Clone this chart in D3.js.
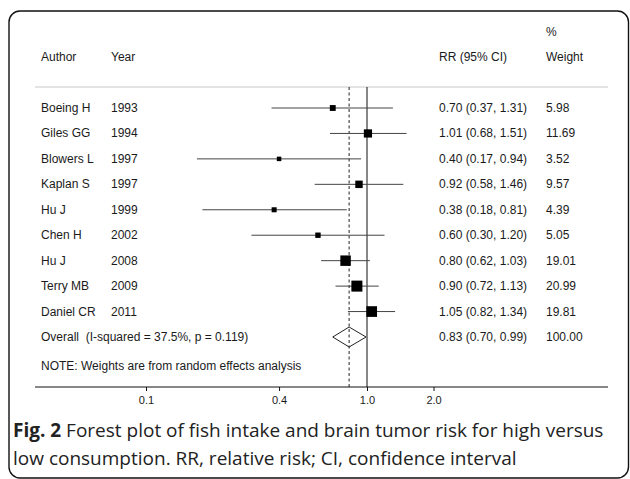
<!DOCTYPE html>
<html>
<head>
<meta charset="utf-8">
<script src="https://cdn.jsdelivr.net/npm/d3@7"></script>
<style>
  html, body { margin: 0; padding: 0; background: #fff; }
  svg { display: block; }
  text { white-space: pre; }
</style>
</head>
<body>
<svg id="chart" width="630" height="479"></svg>
<script>
const authors = ["Boeing H", "Giles GG", "Blowers L", "Kaplan S", "Hu J", "Chen H", "Hu J", "Terry MB", "Daniel CR"];
const years   = ["1993", "1994", "1997", "1997", "1999", "2002", "2008", "2009", "2011"];
const rr      = [0.70, 1.01, 0.40, 0.92, 0.38, 0.60, 0.80, 0.90, 1.05];
const ciLow   = [0.37, 0.68, 0.17, 0.58, 0.18, 0.30, 0.62, 0.72, 0.82];
const ciHigh  = [1.31, 1.51, 0.94, 1.46, 0.81, 1.20, 1.03, 1.13, 1.34];
const weights = [5.98, 11.69, 3.52, 9.57, 4.39, 5.05, 19.01, 20.99, 19.81];
const overallLabel = "Overall  (I-squared = 37.5%, p = 0.119)";
const overall = { rr: 0.83, lo: 0.70, hi: 0.99, w: 100.00 };
const tickValues = [0.1, 0.4, 1.0, 2.0];
const tickLabels = ["0.1", "0.4", "1.0", "2.0"];
const noteText = "NOTE: Weights are from random effects analysis";
const captionBold = "Fig. 2";
const captionLine1 = " Forest plot of fish intake and brain tumor risk for high versus";
const captionLine2 = "low consumption. RR, relative risk; CI, confidence interval";

const svg = d3.select("#chart");
const font = "'Liberation Sans', Arial, sans-serif";
const txtColor = "#1a1a1a";

// frame
svg.append("rect")
  .attr("x", 9).attr("y", 11).attr("width", 619.5).attr("height", 467)
  .attr("rx", 11).attr("ry", 11)
  .attr("fill", "none").attr("stroke", "#111").attr("stroke-width", 1.4);

// scales
const x = d3.scaleLog().domain([0.1, 1]).range([146, 367]);
const rowIdx = d3.range(authors.length + 1);
const y = d3.scalePoint().domain(rowIdx).range([108, 337]);
const size = d3.scaleSqrt().domain([0, d3.max(weights)]).range([0, 11]);
const fmt = d3.format(".2f");

const headerY = 87, axisY = 387;
const colAuthor = 41, colYear = 111, colRR = 439, colW = 546;

// headers
const g = svg.append("g").attr("font-family", font).attr("font-size", 12).attr("fill", txtColor);
g.append("text").attr("x", colAuthor).attr("y", 61).text("Author");
g.append("text").attr("x", colYear).attr("y", 61).text("Year");
g.append("text").attr("x", colRR).attr("y", 61).text("RR (95% CI)");
g.append("text").attr("x", colW).attr("y", 36).text("%");
g.append("text").attr("x", colW).attr("y", 61).text("Weight");

// header rule
svg.append("line")
  .attr("x1", 35).attr("x2", 608).attr("y1", headerY).attr("y2", headerY)
  .attr("stroke", "#c8c8c8").attr("stroke-width", 1);

// reference lines
svg.append("line")
  .attr("x1", x(1)).attr("x2", x(1)).attr("y1", headerY).attr("y2", axisY)
  .attr("stroke", "#111").attr("stroke-width", 1);
svg.append("line")
  .attr("x1", x(overall.rr)).attr("x2", x(overall.rr)).attr("y1", headerY).attr("y2", axisY)
  .attr("stroke", "#222").attr("stroke-width", 1).attr("stroke-dasharray", "3,2.5");

// study rows
const rows = authors.map((a, i) => ({ a, yr: years[i], rr: rr[i], lo: ciLow[i], hi: ciHigh[i], w: weights[i], i }));

g.selectAll(".auth").data(rows).enter().append("text")
  .attr("x", colAuthor).attr("y", d => y(d.i) + 4).text(d => d.a);
g.selectAll(".yr").data(rows).enter().append("text")
  .attr("x", colYear).attr("y", d => y(d.i) + 4).text(d => d.yr);
g.selectAll(".rrt").data(rows).enter().append("text")
  .attr("x", colRR).attr("y", d => y(d.i) + 4)
  .text(d => `${fmt(d.rr)} (${fmt(d.lo)}, ${fmt(d.hi)})`);
g.selectAll(".wt").data(rows).enter().append("text")
  .attr("x", colW).attr("y", d => y(d.i) + 4).text(d => fmt(d.w));

svg.selectAll(".ci").data(rows).enter().append("line")
  .attr("x1", d => x(d.lo)).attr("x2", d => x(d.hi))
  .attr("y1", d => y(d.i)).attr("y2", d => y(d.i))
  .attr("stroke", "#444").attr("stroke-width", 1);

svg.selectAll(".box").data(rows).enter().append("rect")
  .attr("x", d => x(d.rr) - size(d.w) / 2)
  .attr("y", d => y(d.i) - size(d.w) / 2)
  .attr("width", d => size(d.w)).attr("height", d => size(d.w))
  .attr("fill", "#000");

// overall
const oy = y(authors.length);
g.append("text").attr("x", colAuthor).attr("y", oy + 4).text(overallLabel);
g.append("text").attr("x", colRR).attr("y", oy + 4)
  .text(`${fmt(overall.rr)} (${fmt(overall.lo)}, ${fmt(overall.hi)})`);
g.append("text").attr("x", colW).attr("y", oy + 4).text(fmt(overall.w));
svg.append("path")
  .attr("d", d3.line()([
    [x(overall.lo), oy], [x(overall.rr), oy - 10],
    [x(overall.hi), oy], [x(overall.rr), oy + 10]
  ]) + "Z")
  .attr("fill", "none").attr("stroke", "#222").attr("stroke-width", 1);

// note
g.append("text").attr("x", colAuthor).attr("y", 370).text(noteText);

// axis
svg.append("line")
  .attr("x1", 35).attr("x2", 608).attr("y1", axisY).attr("y2", axisY)
  .attr("stroke", "#111").attr("stroke-width", 1);
const axis = d3.axisBottom(x).tickValues(tickValues)
  .tickFormat((d, i) => tickLabels[i]).tickSize(4).tickPadding(5);
const ax = svg.append("g").attr("transform", `translate(0,${axisY})`).call(axis);
ax.select(".domain").remove();
ax.selectAll("line").attr("stroke", "#111");
ax.selectAll("text").attr("font-family", font).attr("font-size", 11).attr("fill", txtColor);

// caption
const cap = svg.append("g").attr("font-family", "'Open Sans', sans-serif").attr("font-size", 19).attr("fill", "#222");
const t1 = cap.append("text").attr("x", 13).attr("y", 437);
t1.append("tspan").attr("font-weight", "bold").text(captionBold);
t1.append("tspan").text(captionLine1);
cap.append("text").attr("x", 13).attr("y", 465).text(captionLine2);
</script>
</body>
</html>
